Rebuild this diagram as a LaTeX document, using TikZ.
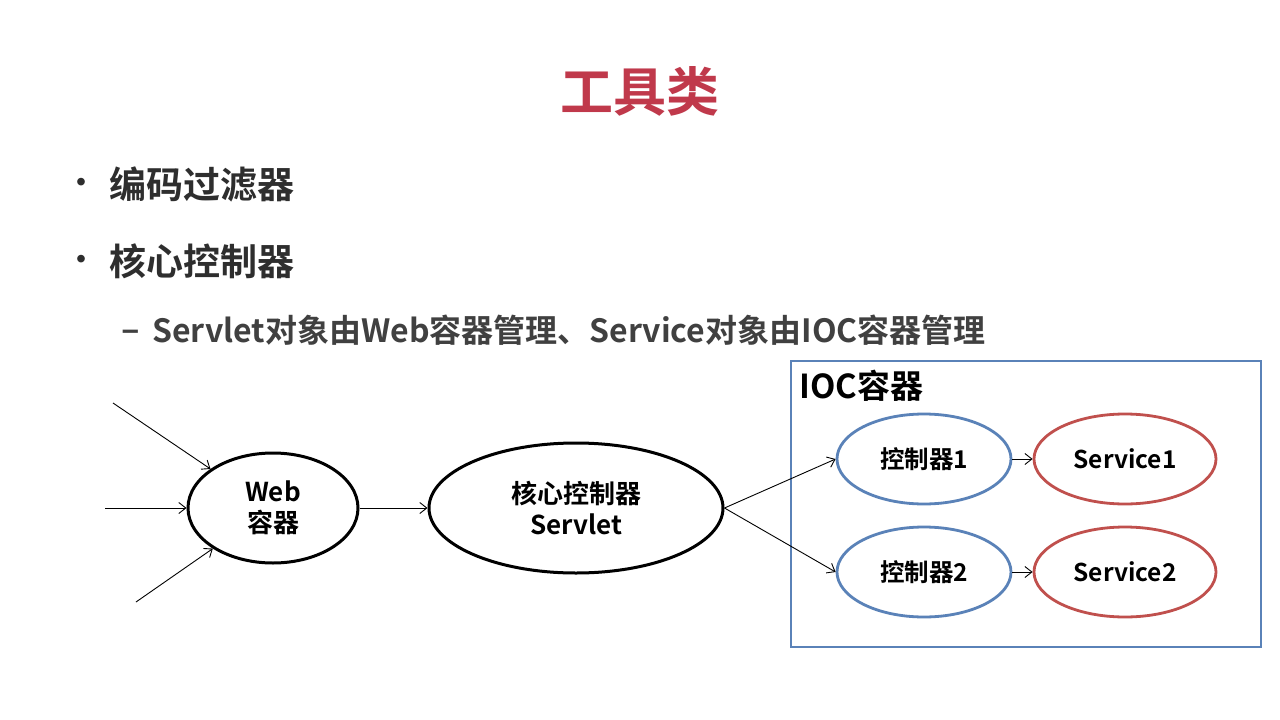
\documentclass[tikz,border=0pt]{standalone}
\usepackage{fontspec}
\setmainfont{Noto Sans CJK SC}[BoldFont=* Bold]
\usetikzlibrary{shapes.geometric,arrows.meta}
\definecolor{titlered}{HTML}{C0394B}
\definecolor{bodygray}{HTML}{2E2E2E}
\definecolor{subgray}{HTML}{404040}
\definecolor{boxblue}{HTML}{5A82B8}
\definecolor{svcred}{HTML}{C0504D}
\tikzset{
  flow/.style={draw=black, line width=0.9pt, -{Straight Barb[length=7pt,width=11pt]}},
  blackell/.style={ellipse, draw=black, line width=3pt, inner sep=0pt, align=center,
    font=\fontsize{26}{31}\selectfont\bfseries},
  ctrlell/.style={ellipse, draw=boxblue, line width=2.8pt, inner sep=0pt,
    minimum width=174pt, minimum height=90pt, font=\fontsize{24.5}{28}\selectfont\bfseries},
  svcell/.style={ellipse, draw=svcred, line width=2.8pt, inner sep=0pt,
    minimum width=182pt, minimum height=90pt, font=\fontsize{24.5}{28}\selectfont\bfseries},
  bullettext/.style={anchor=west, inner sep=0pt, text=bodygray, font=\fontsize{37}{44}\selectfont\bfseries},
  bulletdot/.style={text=bodygray, font=\fontsize{30}{36}\selectfont\bfseries, inner sep=0pt},
}
\begin{document}
\begin{tikzpicture}[x=1pt, y=-1pt]
\useasboundingbox[fill=white] (0,0) rectangle (1280,720);

% heading
\node[text=titlered, font=\fontsize{53}{60}\selectfont\bfseries, inner sep=0pt] (title) at (640,91) {工具类};

% bullet list
\node[bulletdot] (dot1) at (81,186) {•};
\node[bullettext] (item1) at (109,184) {编码过滤器};
\node[bulletdot] (dot2) at (81,263) {•};
\node[bullettext] (item2) at (109,261) {核心控制器};
\node[text=subgray, font=\fontsize{34}{40}\selectfont\bfseries, inner sep=0pt] (dash) at (131,336) {–};
\node[anchor=west, inner sep=0pt, text=subgray, font=\fontsize{32}{38}\selectfont\bfseries] (sub) at (152,330)
  {Servlet对象由Web容器管理、Service对象由IOC容器管理};

% request path
\node[blackell, minimum width=170pt, minimum height=110pt] (web) at (273,508) {Web\\容器};
\node[blackell, minimum width=294pt, minimum height=130pt] (core) at (576,508) {核心控制器\\Servlet};

\coordinate (in1) at (113,403);
\coordinate (in2) at (105,508);
\coordinate (in3) at (136,602);
\draw[flow] (in1) -- (web.148);
\draw[flow] (in2) -- (web.west);
\draw[flow] (in3) -- (web.-146);
\draw[flow] (web.east) -- (core.west);

% IOC container
\draw[draw=boxblue, line width=2.4pt] (791,361) rectangle (1261,647);
\node[anchor=west, inner sep=0pt, font=\fontsize{33}{38}\selectfont\bfseries] (ioc) at (799,386) {IOC容器};

\node[ctrlell] (c1) at (924,459) {控制器1};
\node[ctrlell] (c2) at (924,572) {控制器2};
\node[svcell] (s1) at (1125,459) {Service1};
\node[svcell] (s2) at (1125,572) {Service2};

\draw[flow] (core.east) -- (c1.west);
\draw[flow] (core.east) -- (c2.west);
\draw[flow] (c1.east) -- (s1.west);
\draw[flow] (c2.east) -- (s2.west);
\end{tikzpicture}
\end{document}
